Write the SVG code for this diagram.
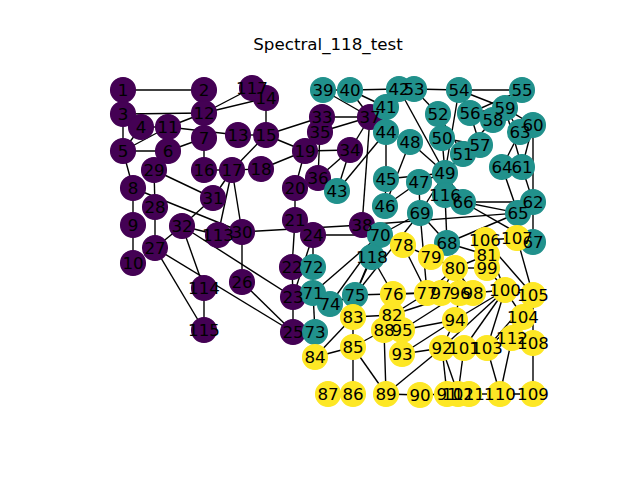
<svg xmlns="http://www.w3.org/2000/svg" width="640" height="480" viewBox="0 0 640 480">
<style>
.e line{stroke:#000;stroke-width:1.4;stroke-linecap:butt}
.n circle{r:12.4;stroke-width:1.3}
.p circle{fill:#440154;stroke:#440154}
.t circle{fill:#21918c;stroke:#21918c}
.y circle{fill:#fde725;stroke:#fde725}
.lb text{font-family:"DejaVu Sans","Liberation Sans",sans-serif;font-size:16.7px;text-anchor:middle;fill:#000}
.title{font-family:"DejaVu Sans","Liberation Sans",sans-serif;font-size:16.7px;text-anchor:middle;fill:#000}
</style>
<rect width="640" height="480" fill="#fff"/>
<text class="title" x="328" y="50">Spectral_118_test</text>
<g id="connectors" class="e">
<line x1="123" y1="90" x2="204" y2="90"/>
<line x1="123" y1="90" x2="123" y2="114"/>
<line x1="141" y1="127" x2="123" y2="151"/>
<line x1="123" y1="114" x2="123" y2="151"/>
<line x1="123" y1="151" x2="168" y2="151"/>
<line x1="168" y1="151" x2="204" y2="138"/>
<line x1="133" y1="188" x2="133" y2="225"/>
<line x1="133" y1="188" x2="123" y2="151"/>
<line x1="133" y1="225" x2="133" y2="263"/>
<line x1="141" y1="127" x2="168" y2="127"/>
<line x1="123" y1="151" x2="168" y2="127"/>
<line x1="168" y1="127" x2="204" y2="113"/>
<line x1="204" y1="90" x2="204" y2="113"/>
<line x1="123" y1="114" x2="204" y2="113"/>
<line x1="204" y1="138" x2="204" y2="113"/>
<line x1="168" y1="127" x2="238" y2="135"/>
<line x1="204" y1="113" x2="266" y2="98"/>
<line x1="238" y1="135" x2="266" y2="135"/>
<line x1="266" y1="98" x2="266" y2="135"/>
<line x1="204" y1="113" x2="204" y2="170"/>
<line x1="266" y1="135" x2="232" y2="170"/>
<line x1="204" y1="170" x2="232" y2="170"/>
<line x1="232" y1="170" x2="261" y2="169"/>
<line x1="261" y1="169" x2="305" y2="151"/>
<line x1="305" y1="151" x2="295" y2="188"/>
<line x1="266" y1="135" x2="305" y2="151"/>
<line x1="295" y1="188" x2="295" y2="220"/>
<line x1="295" y1="220" x2="292" y2="267"/>
<line x1="292" y1="267" x2="293" y2="297"/>
<line x1="293" y1="297" x2="313" y2="235"/>
<line x1="293" y1="297" x2="293" y2="332"/>
<line x1="242" y1="282" x2="293" y2="332"/>
<line x1="293" y1="332" x2="155" y2="248"/>
<line x1="155" y1="248" x2="155" y2="207"/>
<line x1="155" y1="207" x2="154" y2="170"/>
<line x1="242" y1="232" x2="232" y2="170"/>
<line x1="133" y1="188" x2="242" y2="232"/>
<line x1="242" y1="282" x2="242" y2="232"/>
<line x1="232" y1="170" x2="213" y2="198"/>
<line x1="154" y1="170" x2="213" y2="198"/>
<line x1="293" y1="297" x2="182" y2="226"/>
<line x1="213" y1="198" x2="182" y2="226"/>
<line x1="155" y1="248" x2="182" y2="226"/>
<line x1="266" y1="135" x2="322" y2="117"/>
<line x1="305" y1="151" x2="350" y2="150"/>
<line x1="320" y1="132" x2="318" y2="178"/>
<line x1="320" y1="132" x2="370" y2="117"/>
<line x1="322" y1="117" x2="370" y2="117"/>
<line x1="350" y1="150" x2="318" y2="178"/>
<line x1="350" y1="150" x2="370" y2="117"/>
<line x1="362" y1="225" x2="370" y2="117"/>
<line x1="370" y1="117" x2="323" y2="90"/>
<line x1="370" y1="117" x2="350" y2="90"/>
<line x1="242" y1="232" x2="362" y2="225"/>
<line x1="323" y1="90" x2="350" y2="90"/>
<line x1="350" y1="90" x2="386" y2="107"/>
<line x1="350" y1="90" x2="399" y2="89"/>
<line x1="386" y1="107" x2="399" y2="89"/>
<line x1="337" y1="191" x2="386" y2="132"/>
<line x1="350" y1="150" x2="337" y2="191"/>
<line x1="386" y1="132" x2="386" y2="179"/>
<line x1="386" y1="179" x2="385" y2="206"/>
<line x1="385" y1="206" x2="419" y2="182"/>
<line x1="385" y1="206" x2="410" y2="142"/>
<line x1="419" y1="182" x2="445" y2="173"/>
<line x1="399" y1="89" x2="445" y2="173"/>
<line x1="386" y1="179" x2="445" y2="173"/>
<line x1="410" y1="142" x2="445" y2="173"/>
<line x1="445" y1="173" x2="442" y2="138"/>
<line x1="445" y1="173" x2="463" y2="154"/>
<line x1="463" y1="154" x2="438" y2="114"/>
<line x1="438" y1="114" x2="414" y2="89"/>
<line x1="414" y1="89" x2="459" y2="90"/>
<line x1="445" y1="173" x2="459" y2="90"/>
<line x1="459" y1="90" x2="522" y2="90"/>
<line x1="459" y1="90" x2="470" y2="113"/>
<line x1="522" y1="90" x2="470" y2="113"/>
<line x1="470" y1="113" x2="480" y2="145"/>
<line x1="442" y1="138" x2="480" y2="145"/>
<line x1="470" y1="113" x2="493" y2="120"/>
<line x1="463" y1="154" x2="493" y2="120"/>
<line x1="459" y1="90" x2="505" y2="108"/>
<line x1="470" y1="113" x2="505" y2="108"/>
<line x1="522" y1="90" x2="505" y2="108"/>
<line x1="505" y1="108" x2="533" y2="125"/>
<line x1="505" y1="108" x2="522" y2="167"/>
<line x1="533" y1="125" x2="522" y2="167"/>
<line x1="533" y1="125" x2="533" y2="202"/>
<line x1="522" y1="167" x2="533" y2="202"/>
<line x1="520" y1="132" x2="505" y2="108"/>
<line x1="520" y1="132" x2="502" y2="167"/>
<line x1="502" y1="167" x2="522" y2="167"/>
<line x1="362" y1="225" x2="518" y2="213"/>
<line x1="502" y1="167" x2="518" y2="213"/>
<line x1="445" y1="173" x2="463" y2="202"/>
<line x1="533" y1="202" x2="463" y2="202"/>
<line x1="533" y1="202" x2="533" y2="242"/>
<line x1="518" y1="213" x2="463" y2="202"/>
<line x1="463" y1="202" x2="533" y2="242"/>
<line x1="518" y1="213" x2="447" y2="243"/>
<line x1="419" y1="182" x2="420" y2="213"/>
<line x1="445" y1="173" x2="420" y2="213"/>
<line x1="447" y1="243" x2="420" y2="213"/>
<line x1="420" y1="213" x2="380" y2="235"/>
<line x1="313" y1="235" x2="380" y2="235"/>
<line x1="380" y1="235" x2="313" y2="293"/>
<line x1="313" y1="235" x2="313" y2="267"/>
<line x1="313" y1="293" x2="313" y2="267"/>
<line x1="313" y1="293" x2="315" y2="332"/>
<line x1="380" y1="235" x2="330" y2="304"/>
<line x1="380" y1="235" x2="355" y2="295"/>
<line x1="420" y1="213" x2="355" y2="295"/>
<line x1="330" y1="304" x2="355" y2="295"/>
<line x1="393" y1="294" x2="427" y2="293"/>
<line x1="420" y1="213" x2="427" y2="293"/>
<line x1="355" y1="295" x2="427" y2="293"/>
<line x1="427" y1="293" x2="403" y2="245"/>
<line x1="403" y1="245" x2="431" y2="257"/>
<line x1="427" y1="293" x2="455" y2="268"/>
<line x1="431" y1="257" x2="455" y2="268"/>
<line x1="447" y1="243" x2="487" y2="255"/>
<line x1="487" y1="255" x2="455" y2="268"/>
<line x1="427" y1="293" x2="392" y2="315"/>
<line x1="392" y1="315" x2="353" y2="317"/>
<line x1="353" y1="317" x2="315" y2="357"/>
<line x1="353" y1="317" x2="353" y2="347"/>
<line x1="315" y1="357" x2="353" y2="347"/>
<line x1="353" y1="347" x2="353" y2="394"/>
<line x1="353" y1="394" x2="328" y2="394"/>
<line x1="353" y1="347" x2="384" y2="330"/>
<line x1="353" y1="347" x2="386" y2="394"/>
<line x1="384" y1="330" x2="386" y2="394"/>
<line x1="386" y1="394" x2="420" y2="395"/>
<line x1="420" y1="395" x2="447" y2="394"/>
<line x1="386" y1="394" x2="442" y2="348"/>
<line x1="447" y1="394" x2="442" y2="348"/>
<line x1="442" y1="348" x2="402" y2="354"/>
<line x1="442" y1="348" x2="455" y2="320"/>
<line x1="402" y1="354" x2="455" y2="320"/>
<line x1="455" y1="320" x2="402" y2="330"/>
<line x1="455" y1="268" x2="460" y2="293"/>
<line x1="392" y1="315" x2="460" y2="293"/>
<line x1="455" y1="320" x2="460" y2="293"/>
<line x1="455" y1="268" x2="441" y2="293"/>
<line x1="455" y1="268" x2="473" y2="293"/>
<line x1="455" y1="268" x2="487" y2="268"/>
<line x1="442" y1="348" x2="505" y2="290"/>
<line x1="455" y1="320" x2="505" y2="290"/>
<line x1="402" y1="330" x2="460" y2="293"/>
<line x1="460" y1="293" x2="441" y2="293"/>
<line x1="473" y1="293" x2="505" y2="290"/>
<line x1="487" y1="268" x2="505" y2="290"/>
<line x1="505" y1="290" x2="464" y2="348"/>
<line x1="442" y1="348" x2="458" y2="394"/>
<line x1="464" y1="348" x2="458" y2="394"/>
<line x1="505" y1="290" x2="487" y2="348"/>
<line x1="505" y1="290" x2="523" y2="317"/>
<line x1="487" y1="348" x2="523" y2="317"/>
<line x1="487" y1="348" x2="533" y2="295"/>
<line x1="505" y1="290" x2="533" y2="295"/>
<line x1="523" y1="317" x2="533" y2="295"/>
<line x1="533" y1="295" x2="485" y2="240"/>
<line x1="533" y1="295" x2="517" y2="238"/>
<line x1="533" y1="295" x2="533" y2="343"/>
<line x1="485" y1="240" x2="517" y2="238"/>
<line x1="533" y1="343" x2="533" y2="394"/>
<line x1="487" y1="348" x2="500" y2="394"/>
<line x1="533" y1="394" x2="500" y2="394"/>
<line x1="500" y1="394" x2="469" y2="394"/>
<line x1="500" y1="394" x2="512" y2="338"/>
<line x1="232" y1="170" x2="218" y2="235"/>
<line x1="182" y1="226" x2="218" y2="235"/>
<line x1="182" y1="226" x2="204" y2="288"/>
<line x1="155" y1="248" x2="204" y2="330"/>
<line x1="204" y1="288" x2="204" y2="330"/>
<line x1="447" y1="243" x2="445" y2="195"/>
<line x1="204" y1="113" x2="252" y2="88"/>
<line x1="355" y1="295" x2="372" y2="257"/>
<line x1="393" y1="294" x2="372" y2="257"/>
<line x1="505" y1="290" x2="485" y2="240"/>
</g>
<g id="nodes" class="n">
<g id="node1" class="p"><circle cx="123" cy="90"/></g>
<g id="node2" class="p"><circle cx="204" cy="90"/></g>
<g id="node3" class="p"><circle cx="123" cy="114"/></g>
<g id="node4" class="p"><circle cx="141" cy="127"/></g>
<g id="node5" class="p"><circle cx="123" cy="151"/></g>
<g id="node6" class="p"><circle cx="168" cy="151"/></g>
<g id="node7" class="p"><circle cx="204" cy="138"/></g>
<g id="node8" class="p"><circle cx="133" cy="188"/></g>
<g id="node9" class="p"><circle cx="133" cy="225"/></g>
<g id="node10" class="p"><circle cx="133" cy="263"/></g>
<g id="node11" class="p"><circle cx="168" cy="127"/></g>
<g id="node12" class="p"><circle cx="204" cy="113"/></g>
<g id="node13" class="p"><circle cx="238" cy="135"/></g>
<g id="node14" class="p"><circle cx="266" cy="98"/></g>
<g id="node15" class="p"><circle cx="266" cy="135"/></g>
<g id="node16" class="p"><circle cx="204" cy="170"/></g>
<g id="node17" class="p"><circle cx="232" cy="170"/></g>
<g id="node18" class="p"><circle cx="261" cy="169"/></g>
<g id="node19" class="p"><circle cx="305" cy="151"/></g>
<g id="node20" class="p"><circle cx="295" cy="188"/></g>
<g id="node21" class="p"><circle cx="295" cy="220"/></g>
<g id="node22" class="p"><circle cx="292" cy="267"/></g>
<g id="node23" class="p"><circle cx="293" cy="297"/></g>
<g id="node24" class="p"><circle cx="313" cy="235"/></g>
<g id="node25" class="p"><circle cx="293" cy="332"/></g>
<g id="node26" class="p"><circle cx="242" cy="282"/></g>
<g id="node27" class="p"><circle cx="155" cy="248"/></g>
<g id="node28" class="p"><circle cx="155" cy="207"/></g>
<g id="node29" class="p"><circle cx="154" cy="170"/></g>
<g id="node30" class="p"><circle cx="242" cy="232"/></g>
<g id="node31" class="p"><circle cx="213" cy="198"/></g>
<g id="node32" class="p"><circle cx="182" cy="226"/></g>
<g id="node33" class="p"><circle cx="322" cy="117"/></g>
<g id="node34" class="p"><circle cx="350" cy="150"/></g>
<g id="node35" class="p"><circle cx="320" cy="132"/></g>
<g id="node36" class="p"><circle cx="318" cy="178"/></g>
<g id="node37" class="p"><circle cx="370" cy="117"/></g>
<g id="node38" class="p"><circle cx="362" cy="225"/></g>
<g id="node39" class="t"><circle cx="323" cy="90"/></g>
<g id="node40" class="t"><circle cx="350" cy="90"/></g>
<g id="node41" class="t"><circle cx="386" cy="107"/></g>
<g id="node42" class="t"><circle cx="399" cy="89"/></g>
<g id="node43" class="t"><circle cx="337" cy="191"/></g>
<g id="node44" class="t"><circle cx="386" cy="132"/></g>
<g id="node45" class="t"><circle cx="386" cy="179"/></g>
<g id="node46" class="t"><circle cx="385" cy="206"/></g>
<g id="node47" class="t"><circle cx="419" cy="182"/></g>
<g id="node48" class="t"><circle cx="410" cy="142"/></g>
<g id="node49" class="t"><circle cx="445" cy="173"/></g>
<g id="node50" class="t"><circle cx="442" cy="138"/></g>
<g id="node51" class="t"><circle cx="463" cy="154"/></g>
<g id="node52" class="t"><circle cx="438" cy="114"/></g>
<g id="node53" class="t"><circle cx="414" cy="89"/></g>
<g id="node54" class="t"><circle cx="459" cy="90"/></g>
<g id="node55" class="t"><circle cx="522" cy="90"/></g>
<g id="node56" class="t"><circle cx="470" cy="113"/></g>
<g id="node57" class="t"><circle cx="480" cy="145"/></g>
<g id="node58" class="t"><circle cx="493" cy="120"/></g>
<g id="node59" class="t"><circle cx="505" cy="108"/></g>
<g id="node60" class="t"><circle cx="533" cy="125"/></g>
<g id="node61" class="t"><circle cx="522" cy="167"/></g>
<g id="node62" class="t"><circle cx="533" cy="202"/></g>
<g id="node63" class="t"><circle cx="520" cy="132"/></g>
<g id="node64" class="t"><circle cx="502" cy="167"/></g>
<g id="node65" class="t"><circle cx="518" cy="213"/></g>
<g id="node66" class="t"><circle cx="463" cy="202"/></g>
<g id="node67" class="t"><circle cx="533" cy="242"/></g>
<g id="node68" class="t"><circle cx="447" cy="243"/></g>
<g id="node69" class="t"><circle cx="420" cy="213"/></g>
<g id="node70" class="t"><circle cx="380" cy="235"/></g>
<g id="node71" class="t"><circle cx="313" cy="293"/></g>
<g id="node72" class="t"><circle cx="313" cy="267"/></g>
<g id="node73" class="t"><circle cx="315" cy="332"/></g>
<g id="node74" class="t"><circle cx="330" cy="304"/></g>
<g id="node75" class="t"><circle cx="355" cy="295"/></g>
<g id="node76" class="y"><circle cx="393" cy="294"/></g>
<g id="node77" class="y"><circle cx="427" cy="293"/></g>
<g id="node78" class="y"><circle cx="403" cy="245"/></g>
<g id="node79" class="y"><circle cx="431" cy="257"/></g>
<g id="node80" class="y"><circle cx="455" cy="268"/></g>
<g id="node81" class="y"><circle cx="487" cy="255"/></g>
<g id="node82" class="y"><circle cx="392" cy="315"/></g>
<g id="node83" class="y"><circle cx="353" cy="317"/></g>
<g id="node84" class="y"><circle cx="315" cy="357"/></g>
<g id="node85" class="y"><circle cx="353" cy="347"/></g>
<g id="node86" class="y"><circle cx="353" cy="394"/></g>
<g id="node87" class="y"><circle cx="328" cy="394"/></g>
<g id="node88" class="y"><circle cx="384" cy="330"/></g>
<g id="node89" class="y"><circle cx="386" cy="394"/></g>
<g id="node90" class="y"><circle cx="420" cy="395"/></g>
<g id="node91" class="y"><circle cx="447" cy="394"/></g>
<g id="node92" class="y"><circle cx="442" cy="348"/></g>
<g id="node93" class="y"><circle cx="402" cy="354"/></g>
<g id="node94" class="y"><circle cx="455" cy="320"/></g>
<g id="node95" class="y"><circle cx="402" cy="330"/></g>
<g id="node96" class="y"><circle cx="460" cy="293"/></g>
<g id="node97" class="y"><circle cx="441" cy="293"/></g>
<g id="node98" class="y"><circle cx="473" cy="293"/></g>
<g id="node99" class="y"><circle cx="487" cy="268"/></g>
<g id="node100" class="y"><circle cx="505" cy="290"/></g>
<g id="node101" class="y"><circle cx="464" cy="348"/></g>
<g id="node102" class="y"><circle cx="458" cy="394"/></g>
<g id="node103" class="y"><circle cx="487" cy="348"/></g>
<g id="node104" class="y"><circle cx="523" cy="317"/></g>
<g id="node105" class="y"><circle cx="533" cy="295"/></g>
<g id="node106" class="y"><circle cx="485" cy="240"/></g>
<g id="node107" class="y"><circle cx="517" cy="238"/></g>
<g id="node108" class="y"><circle cx="533" cy="343"/></g>
<g id="node109" class="y"><circle cx="533" cy="394"/></g>
<g id="node110" class="y"><circle cx="500" cy="394"/></g>
<g id="node111" class="y"><circle cx="469" cy="394"/></g>
<g id="node112" class="y"><circle cx="512" cy="338"/></g>
<g id="node113" class="p"><circle cx="218" cy="235"/></g>
<g id="node114" class="p"><circle cx="204" cy="288"/></g>
<g id="node115" class="p"><circle cx="204" cy="330"/></g>
<g id="node116" class="t"><circle cx="445" cy="195"/></g>
<g id="node117" class="p"><circle cx="252" cy="88"/></g>
<g id="node118" class="t"><circle cx="372" cy="257"/></g>
</g>
<g id="labels" class="lb">
<text x="123" y="96">1</text>
<text x="204" y="96">2</text>
<text x="123" y="120">3</text>
<text x="141" y="133">4</text>
<text x="123" y="157">5</text>
<text x="168" y="157">6</text>
<text x="204" y="144">7</text>
<text x="133" y="194">8</text>
<text x="133" y="231">9</text>
<text x="133" y="269">10</text>
<text x="168" y="133">11</text>
<text x="204" y="119">12</text>
<text x="238" y="141">13</text>
<text x="266" y="104">14</text>
<text x="266" y="141">15</text>
<text x="204" y="176">16</text>
<text x="232" y="176">17</text>
<text x="261" y="175">18</text>
<text x="305" y="157">19</text>
<text x="295" y="194">20</text>
<text x="295" y="226">21</text>
<text x="292" y="273">22</text>
<text x="293" y="303">23</text>
<text x="313" y="241">24</text>
<text x="293" y="338">25</text>
<text x="242" y="288">26</text>
<text x="155" y="254">27</text>
<text x="155" y="213">28</text>
<text x="154" y="176">29</text>
<text x="242" y="238">30</text>
<text x="213" y="204">31</text>
<text x="182" y="232">32</text>
<text x="322" y="123">33</text>
<text x="350" y="156">34</text>
<text x="320" y="138">35</text>
<text x="318" y="184">36</text>
<text x="370" y="123">37</text>
<text x="362" y="231">38</text>
<text x="323" y="96">39</text>
<text x="350" y="96">40</text>
<text x="386" y="113">41</text>
<text x="399" y="95">42</text>
<text x="337" y="197">43</text>
<text x="386" y="138">44</text>
<text x="386" y="185">45</text>
<text x="385" y="212">46</text>
<text x="419" y="188">47</text>
<text x="410" y="148">48</text>
<text x="445" y="179">49</text>
<text x="442" y="144">50</text>
<text x="463" y="160">51</text>
<text x="438" y="120">52</text>
<text x="414" y="95">53</text>
<text x="459" y="96">54</text>
<text x="522" y="96">55</text>
<text x="470" y="119">56</text>
<text x="480" y="151">57</text>
<text x="493" y="126">58</text>
<text x="505" y="114">59</text>
<text x="533" y="131">60</text>
<text x="522" y="173">61</text>
<text x="533" y="208">62</text>
<text x="520" y="138">63</text>
<text x="502" y="173">64</text>
<text x="518" y="219">65</text>
<text x="463" y="208">66</text>
<text x="533" y="248">67</text>
<text x="447" y="249">68</text>
<text x="420" y="219">69</text>
<text x="380" y="241">70</text>
<text x="313" y="299">71</text>
<text x="313" y="273">72</text>
<text x="315" y="338">73</text>
<text x="330" y="310">74</text>
<text x="355" y="301">75</text>
<text x="393" y="300">76</text>
<text x="427" y="299">77</text>
<text x="403" y="251">78</text>
<text x="431" y="263">79</text>
<text x="455" y="274">80</text>
<text x="487" y="261">81</text>
<text x="392" y="321">82</text>
<text x="353" y="323">83</text>
<text x="315" y="363">84</text>
<text x="353" y="353">85</text>
<text x="353" y="400">86</text>
<text x="328" y="400">87</text>
<text x="384" y="336">88</text>
<text x="386" y="400">89</text>
<text x="420" y="401">90</text>
<text x="447" y="400">91</text>
<text x="442" y="354">92</text>
<text x="402" y="360">93</text>
<text x="455" y="326">94</text>
<text x="402" y="336">95</text>
<text x="460" y="299">96</text>
<text x="441" y="299">97</text>
<text x="473" y="299">98</text>
<text x="487" y="274">99</text>
<text x="505" y="296">100</text>
<text x="464" y="354">101</text>
<text x="458" y="400">102</text>
<text x="487" y="354">103</text>
<text x="523" y="323">104</text>
<text x="533" y="301">105</text>
<text x="485" y="246">106</text>
<text x="517" y="244">107</text>
<text x="533" y="349">108</text>
<text x="533" y="400">109</text>
<text x="500" y="400">110</text>
<text x="469" y="400">111</text>
<text x="512" y="344">112</text>
<text x="218" y="241">113</text>
<text x="204" y="294">114</text>
<text x="204" y="336">115</text>
<text x="445" y="201">116</text>
<text x="252" y="94">117</text>
<text x="372" y="263">118</text>
</g>
</svg>
